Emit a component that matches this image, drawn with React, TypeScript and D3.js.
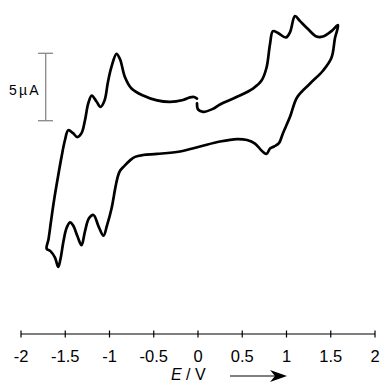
import React from "react";
import * as d3 from "d3";

// cyclic voltammogram, one closed sweep (starts and ends near 0 V)
const potential = [
  -0.011, 0.0, 0.056, 0.169, 0.249, 0.435, 0.621, 0.718, 0.774, 0.814, 0.847, 0.904, 0.994, 1.04, 1.096,
  1.153, 1.243, 1.339, 1.412, 1.508, 1.582, 1.548, 1.508, 1.412, 1.266, 1.119, 1.04, 0.96, 0.915, 0.859,
  0.814, 0.774, 0.723, 0.644, 0.554, 0.441, 0.249, 0.023, -0.203, -0.463, -0.621, -0.712, -0.768, -0.836,
  -0.881, -0.91, -0.938, -0.977, -1.028, -1.068, -1.124, -1.181, -1.232, -1.277, -1.316, -1.362, -1.412,
  -1.446, -1.486, -1.52, -1.554, -1.579, -1.616, -1.667, -1.71, -1.689, -1.661, -1.627, -1.588, -1.542,
  -1.503, -1.466, -1.412, -1.364, -1.316, -1.277, -1.24, -1.201, -1.147, -1.102, -1.056, -1.017, -0.977,
  -0.921, -0.881, -0.825, -0.751, -0.621, -0.463, -0.316, -0.169, -0.09, -0.045, -0.011,
];
const current = [
  3.46, 3.01, 2.83, 3.05, 3.38, 3.93, 4.56, 5.15, 6.1, 7.87, 8.82, 8.68, 8.35, 8.75, 9.93,
  9.56, 8.97, 8.42, 8.42, 8.82, 9.26, 8.31, 6.84, 5.88, 4.93, 3.9, 2.46, 1.25, 0.51, 0.26,
  0.11, -0.29, -0.07, 0.48, 0.74, 0.81, 0.63, 0.26, -0.11, -0.29, -0.37, -0.51, -0.77, -1.21,
  -1.54, -2.06, -2.94, -4.34, -5.59, -6.36, -5.66, -4.82, -5.07, -6.03, -7.06, -6.4, -5.59,
  -5.37, -5.81, -6.76, -8.09, -8.68, -7.98, -7.5, -7.32, -6.62, -5.29, -3.75, -2.21, -0.51,
  0.74, 1.47, 1.25, 0.96, 1.25, 2.21, 3.46, 4.04, 3.6, 3.2, 3.68, 5.07, 6.18,
  7.13, 6.73, 5.4, 4.56, 4.04, 3.68, 3.57, 3.71, 3.9, 3.93, 3.82,
];
const xTicks = [-2, -1.5, -1, -0.5, 0, 0.5, 1, 1.5, 2];
const scaleBar = [0, 5]; // µA

const W = 382;
const H = 385;
const font = "'Liberation Sans', Arial, sans-serif";

export default function App() {
  const x = d3.scaleLinear().domain([-2, 2]).range([21, 375]);
  const y = d3.scaleLinear().domain([0, 5]).range([150, 82.6]);
  const axisY = 334;

  const pts: [number, number][] = potential.map((p, i) => [p, current[i]]);
  const line = d3
    .line<[number, number]>()
    .x((d) => x(d[0]))
    .y((d) => y(d[1]))
    .curve(d3.curveCatmullRom.alpha(0.5));

  // scale bar placed in the upper left
  const barTop = 53.3;
  const barBottom = barTop + (y(scaleBar[0]) - y(scaleBar[1]));

  return (
    <svg width={W} height={H} style={{ position: "absolute", left: 0, top: 0 }} fontFamily={font}>
      <rect width={W} height={H} fill="#fff" />

      {/* scale bar */}
      <g stroke="#888" strokeWidth={1.3}>
        <line x1={45.7} x2={45.7} y1={barTop} y2={barBottom} />
        <line x1={38} x2={53} y1={barTop} y2={barTop} />
        <line x1={38} x2={53} y1={barBottom} y2={barBottom} />
      </g>
      <text x={9} y={94.5} fontSize={14} letterSpacing={2.2}>
        {scaleBar[1]}µA
      </text>

      {/* curve */}
      <path d={line(pts) ?? ""} fill="none" stroke="#000" strokeWidth={2.7} strokeLinejoin="round" strokeLinecap="round" />

      {/* x axis */}
      <line x1={x(-2)} x2={x(2)} y1={axisY} y2={axisY} stroke="#000" strokeWidth={1.2} />
      {xTicks.map((t) => (
        <g key={t}>
          <line x1={x(t)} x2={x(t)} y1={axisY - 3.5} y2={axisY + 3.5} stroke="#000" strokeWidth={1.2} />
          <text x={x(t)} y={361.5} fontSize={16.5} textAnchor="middle">
            {t}
          </text>
        </g>
      ))}
      <text x={171} y={380} fontSize={16}>
        <tspan fontStyle="italic">E</tspan>
        <tspan> / V</tspan>
      </text>
      <line x1={230} x2={276} y1={376} y2={376} stroke="#000" strokeWidth={1.2} />
      <path d="M287,376 L270,370 L275,376 L270,382 Z" fill="#000" />
    </svg>
  );
}
